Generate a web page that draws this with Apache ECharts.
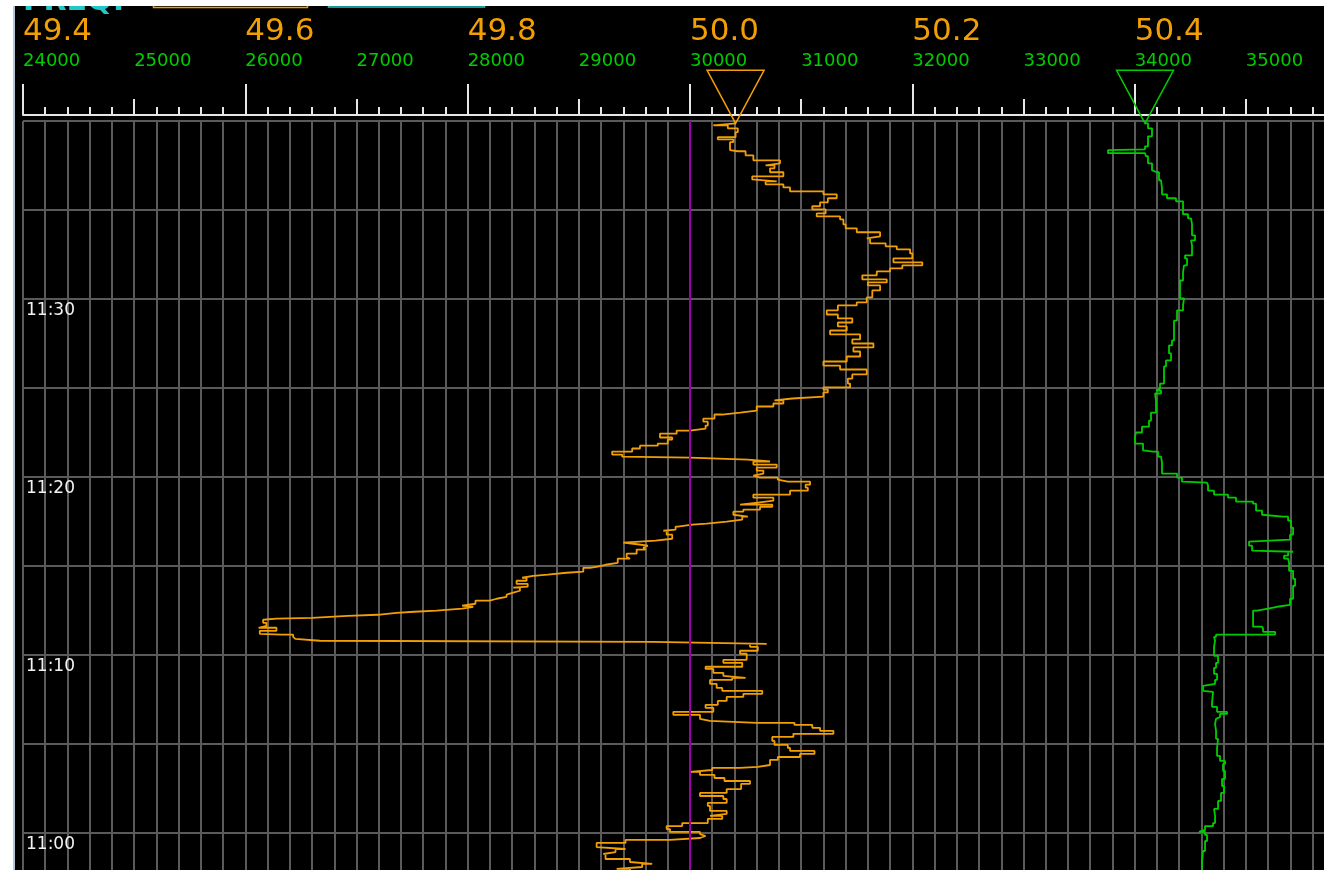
<!DOCTYPE html>
<html>
<head>
<meta charset="utf-8">
<title>Frequency and load</title>
<script src="https://cdn.jsdelivr.net/npm/echarts@6/dist/echarts.min.js"></script>
<style>
  html, body { margin: 0; padding: 0; background: #000; }
  #chart { width: 1324px; height: 870px; }
</style>
</head>
<body>
<div id="chart"></div>
<script>
// Time of each sample, in minutes after 11:00 (time runs upward)
const freqTime = [
  -2.25,-2.02,-1.91,-1.74,-1.63,-1.46,-1.18,-1.07,-0.90,-0.79,
  -0.56,-0.39,-0.28,-0.17,-0.06,0.06,0.22,0.39,0.56,0.79,
  0.96,1.07,1.24,1.52,1.69,1.91,2.08,2.25,2.47,2.76,
  2.92,3.09,3.26,3.43,3.54,3.66,3.71,3.82,4.11,4.27,
  4.44,4.61,4.78,4.95,5.17,5.40,5.57,5.74,5.91,6.07,
  6.19,6.30,6.41,6.64,6.81,7.03,7.20,7.42,7.65,7.82,
  7.99,8.15,8.38,8.60,8.72,8.83,9.00,9.22,9.34,9.56,
  9.73,10.07,10.24,10.46,10.63,10.74,10.80,10.91,11.02,11.14,
  11.19,11.36,11.53,11.64,11.81,11.98,12.04,12.09,12.20,12.26,
  12.37,12.43,12.49,12.60,12.71,12.77,12.88,13.05,13.16,13.27,
  13.39,13.50,13.61,13.78,13.84,14.00,14.17,14.34,14.45,14.51,
  14.62,14.68,14.90,14.96,15.07,15.18,15.41,15.52,15.69,15.92,
  16.03,16.14,16.25,16.31,16.42,16.53,16.76,16.98,17.04,17.21,
  17.32,17.38,17.49,17.60,17.77,17.88,18.05,18.17,18.33,18.45,
  18.56,18.67,18.84,19.01,19.23,19.40,19.57,19.74,19.85,19.97,
  20.08,20.19,20.36,20.53,20.70,20.87,20.98,21.09,21.14,21.26,
  21.43,21.60,21.76,21.88,22.10,22.22,22.44,22.61,22.72,22.89,
  23.11,23.28,23.51,23.62,23.73,23.96,24.13,24.30,24.41,24.52,
  24.75,24.91,25.03,25.25,25.53,25.76,26.04,26.26,26.49,26.77,
  27.05,27.28,27.50,27.73,28.01,28.23,28.46,28.68,28.91,29.13,
  29.36,29.64,29.81,30.09,30.48,30.76,30.93,31.10,31.33,31.55,
  31.72,31.89,32.06,32.28,32.56,32.79,32.96,33.13,33.41,33.52,
  33.75,33.97,34.19,34.47,34.64,34.81,35.04,35.21,35.43,35.66,
  35.88,36.05,36.27,36.44,36.61,36.72,36.89,37.12,37.34,37.51,
  37.62,37.79,38.07,38.30,38.36,38.81,38.97,39.09,39.37,39.59,
  39.76,39.87
];

// Grid frequency, Hz
const freqHz = [
  49.946,49.934,49.957,49.966,49.946,49.924,49.922,49.933,49.942,49.916,
  49.942,49.982,50.009,50.014,50.009,49.982,49.979,49.993,50.016,50.029,
  50.018,50.033,50.018,50.016,50.033,50.030,50.009,50.033,50.046,50.054,
  50.031,50.022,50.009,50.000,50.020,50.045,50.061,50.072,50.079,50.099,
  50.112,50.090,50.088,50.076,50.074,50.093,50.129,50.117,50.110,50.094,
  50.060,50.018,50.009,49.985,50.021,50.014,50.025,50.033,50.048,50.065,
  50.029,50.024,50.018,50.038,50.050,50.030,50.021,50.014,50.047,50.030,
  50.051,50.045,50.061,50.054,50.069,49.967,49.667,49.645,49.643,49.633,
  49.613,49.628,49.612,49.619,49.616,49.615,49.628,49.660,49.692,49.719,
  49.736,49.752,49.772,49.795,49.805,49.795,49.807,49.820,49.826,49.835,
  49.834,49.841,49.847,49.841,49.854,49.844,49.853,49.849,49.859,49.872,
  49.889,49.904,49.910,49.917,49.924,49.935,49.946,49.943,49.952,49.960,
  49.958,49.962,49.949,49.940,49.969,49.984,49.979,49.976,49.987,49.989,
  50.002,50.015,50.033,50.047,50.052,50.039,50.048,50.063,50.074,50.045,
  50.061,50.075,50.057,50.090,50.106,50.104,50.108,50.088,50.079,50.063,
  50.057,50.066,50.060,50.078,50.057,50.072,50.052,50.000,49.939,49.930,
  49.948,49.955,49.971,49.980,49.984,49.973,49.988,50.000,50.014,50.016,
  50.012,50.022,50.029,50.045,50.060,50.075,50.084,50.076,50.092,50.120,
  50.124,50.120,50.144,50.142,50.146,50.159,50.135,50.120,50.141,50.153,
  50.147,50.165,50.146,50.153,50.126,50.141,50.133,50.146,50.133,50.123,
  50.133,50.150,50.159,50.164,50.171,50.160,50.177,50.155,50.168,50.180,
  50.191,50.209,50.183,50.200,50.198,50.186,50.176,50.162,50.159,50.171,
  50.150,50.140,50.138,50.135,50.114,50.122,50.110,50.117,50.124,50.132,
  50.120,50.090,50.084,50.068,50.078,50.056,50.084,50.072,50.076,50.068,
  50.081,50.057,50.050,50.043,50.036,50.039,50.025,50.041,50.043,50.034,
  50.021,50.041
];

// Time of each load sample, minutes after 11:00
const loadTime = [
  -2.25,-1.57,-1.01,-0.45,-0.11,0.06,0.17,0.39,0.56,0.96,
  1.35,1.80,2.25,2.64,3.04,3.49,3.88,4.05,4.33,4.78,
  5.29,5.74,6.13,6.41,6.52,6.69,6.81,7.09,7.31,7.93,
  7.99,8.27,8.38,8.60,8.94,9.28,9.56,9.95,10.46,10.80,
  11.02,11.14,11.30,11.47,11.59,12.15,12.49,12.60,12.71,12.82,
  13.16,13.89,14.28,14.73,15.18,15.41,15.58,15.80,15.86,16.14,
  16.37,16.48,16.76,17.15,17.55,17.77,17.88,18.11,18.50,18.62,
  18.84,19.01,19.23,19.52,19.68,19.74,19.97,20.19,20.81,21.15,
  21.43,21.49,21.88,22.27,22.50,22.83,23.17,23.62,24.30,24.69,
  24.86,24.97,25.25,25.87,26.21,26.55,26.94,27.39,27.67,28.51,
  28.79,29.36,29.64,30.03,30.48,31.04,31.49,31.89,32.28,32.45,
  33.01,33.29,33.58,34.19,34.53,34.76,35.21,35.49,35.66,35.88,
  36.22,36.67,37.12,37.23,37.62,38.02,38.13,38.19,38.36,38.41,
  38.58,39.14,39.59,39.87
];

// System load, MW
const loadMW = [
  34606,34615,34633,34651,34633,34579,34633,34705,34723,34714,
  34750,34777,34804,34786,34813,34795,34813,34768,34741,34750,
  34732,34723,34732,34723,34768,34831,34741,34696,34705,34705,
  34615,34606,34723,34741,34714,34732,34750,34714,34723,34714,
  34732,35263,35155,35146,35065,35065,35101,35200,35281,35398,
  35425,35443,35425,35389,35380,35344,35380,35425,35056,35029,
  35038,35398,35425,35407,35380,35335,35146,35092,35065,34912,
  34840,34714,34660,34651,34651,34426,34381,34246,34237,34210,
  34165,34075,34003,34012,34066,34129,34147,34192,34183,34237,
  34192,34228,34264,34264,34282,34327,34309,34336,34354,34354,
  34381,34435,34444,34408,34408,34435,34444,34471,34453,34516,
  34507,34543,34516,34507,34480,34435,34435,34372,34291,34246,
  34237,34219,34201,34156,34120,34102,34093,33760,33760,34093,
  34120,34156,34120,34093
];

// Axis extents and labels
const freqRange = [49.4, 50.6];
const loadRange = [24000, 36000];
const timeRange = [-5, 40];          // minutes after 11:00
const nominalHz = 50.0;
const timeLabelMinutes = [0, 10, 20, 30];
const timeLabels = ['11:00', '11:10', '11:20', '11:30'];

const ORANGE = '#f29f05';
const GREEN = '#00cc00';
const CYAN = '#20c8c8';
const GRID = '#5a5a5a';
const AXIS = '#e6e6e6';
const FONT = '"DejaVu Sans", Verdana, sans-serif';

const freqData = freqTime.map((t, i) => [freqHz[i], t]);
const loadData = loadTime.map((t, i) => [loadMW[i], t]);

// inverted triangle pointing at the latest reading
const pointer = 'path://M0,0L57,0L28.5,53Z';

const chart = echarts.init(document.getElementById('chart'), null, { renderer: 'canvas' });

const topAxisBase = {
  type: 'value',
  position: 'top',
  gridIndex: 0,
  offset: 6,
  axisLine: { show: false, onZero: false },
  splitLine: { show: false },
  axisLabel: { show: false },
  axisTick: { show: true, inside: false, lineStyle: { color: AXIS, width: 2 } }
};

chart.setOption({
  backgroundColor: '#000',
  animation: false,
  grid: {
    left: 23, right: -33, top: 121, bottom: -52,
    containLabel: false,
    outerBoundsMode: 'none',
    show: false
  },
  xAxis: [
    // load scale: fine ticks every 200 MW, vertical grid lines, green labels
    Object.assign({}, topAxisBase, {
      min: loadRange[0], max: loadRange[1], interval: 200,
      axisLine: { show: true, onZero: false, lineStyle: { color: AXIS, width: 2 } },
      axisTick: { show: true, length: 8, lineStyle: { color: AXIS, width: 2 } },
      splitLine: { show: true, lineStyle: { color: GRID, width: 2 } },
      axisLabel: {
        show: true, margin: 45, align: 'left', verticalAlign: 'bottom',
        color: GREEN, fontFamily: FONT, fontSize: 18,
        showMinLabel: true, showMaxLabel: true,
        formatter: v => (Math.round(v) % 1000 === 0 ? String(Math.round(v)) : '')
      }
    }),
    // medium ticks every 1000 MW
    Object.assign({}, topAxisBase, {
      min: loadRange[0], max: loadRange[1], interval: 1000,
      axisTick: { show: true, length: 16, lineStyle: { color: AXIS, width: 2 } }
    }),
    // frequency scale: long ticks every 0.2 Hz, orange labels
    Object.assign({}, topAxisBase, {
      min: freqRange[0], max: freqRange[1], interval: 0.2,
      axisTick: { show: true, length: 31, lineStyle: { color: AXIS, width: 2 } },
      axisLabel: {
        show: true, margin: 68, align: 'left', verticalAlign: 'bottom',
        color: ORANGE, fontFamily: FONT, fontSize: 31,
        formatter: v => v.toFixed(1)
      }
    })
  ],
  yAxis: {
    type: 'value',
    min: timeRange[0], max: timeRange[1], interval: 5,
    axisLine: { show: false, onZero: false },
    axisTick: { show: false },
    splitLine: { show: true, lineStyle: { color: GRID, width: 2 } },
    axisLabel: {
      show: true, inside: true, margin: 3,
      align: 'left', verticalAlign: 'top', padding: [3, 0, 0, 0],
      color: '#f2f2f2', fontFamily: FONT, fontSize: 17,
      formatter: v => {
        const i = timeLabelMinutes.indexOf(Math.round(v));
        return (i >= 0 && Math.abs(v - Math.round(v)) < 1e-6) ? timeLabels[i] : '';
      }
    }
  },
  series: [
    {
      name: 'Frequency',
      type: 'line',
      xAxisIndex: 2,
      yAxisIndex: 0,
      data: freqData,
      step: 'start',
      showSymbol: false,
      symbol: 'none',
      clip: false,
      silent: true,
      lineStyle: { color: ORANGE, width: 1.8 },
      z: 4,
      markLine: {
        silent: true,
        symbol: 'none',
        label: { show: false },
        lineStyle: { color: '#a000a8', width: 2, type: 'solid' },
        data: [{ xAxis: nominalHz }]
      },
      markPoint: {
        silent: true,
        symbol: pointer,
        symbolSize: [57, 53],
        symbolOffset: [0, -26.5],
        label: { show: false },
        itemStyle: { color: 'rgba(0,0,0,0)', borderColor: ORANGE, borderWidth: 1.5 },
        data: [{ coord: freqData[freqData.length - 1] }]
      }
    },
    {
      name: 'Load',
      type: 'line',
      xAxisIndex: 0,
      yAxisIndex: 0,
      data: loadData,
      step: 'start',
      showSymbol: false,
      symbol: 'none',
      clip: false,
      silent: true,
      lineStyle: { color: GREEN, width: 1.8 },
      z: 4,
      markPoint: {
        silent: true,
        symbol: pointer,
        symbolSize: [57, 53],
        symbolOffset: [0, -26.5],
        label: { show: false },
        itemStyle: { color: 'rgba(0,0,0,0)', borderColor: GREEN, borderWidth: 1.5 },
        data: [{ coord: loadData[loadData.length - 1] }]
      }
    }
  ],
  graphic: [
    // header strip, cut off at the top of the window
    { type: 'text', left: 23, top: -13, z: 50,
      style: { text: 'FREQ:', fill: CYAN, font: 'bold 30px ' + FONT } },
    { type: 'rect', z: 50, shape: { x: 153.5, y: -12, width: 154, height: 19.5 },
      style: { fill: 'none', stroke: ORANGE, lineWidth: 1.5 } },
    { type: 'rect', z: 50, shape: { x: 328.5, y: -12, width: 156, height: 19 },
      style: { fill: 'none', stroke: CYAN, lineWidth: 1.5 } },
    // window frame
    { type: 'rect', z: 60, shape: { x: 0, y: 0, width: 1324, height: 6 }, style: { fill: '#ffffff' } },
    { type: 'rect', z: 60, shape: { x: 0, y: 0, width: 13, height: 870 }, style: { fill: '#ffffff' } },
    { type: 'rect', z: 60, shape: { x: 13, y: 6, width: 2, height: 864 }, style: { fill: '#b4c4d4' } }
  ]
});
</script>
</body>
</html>
